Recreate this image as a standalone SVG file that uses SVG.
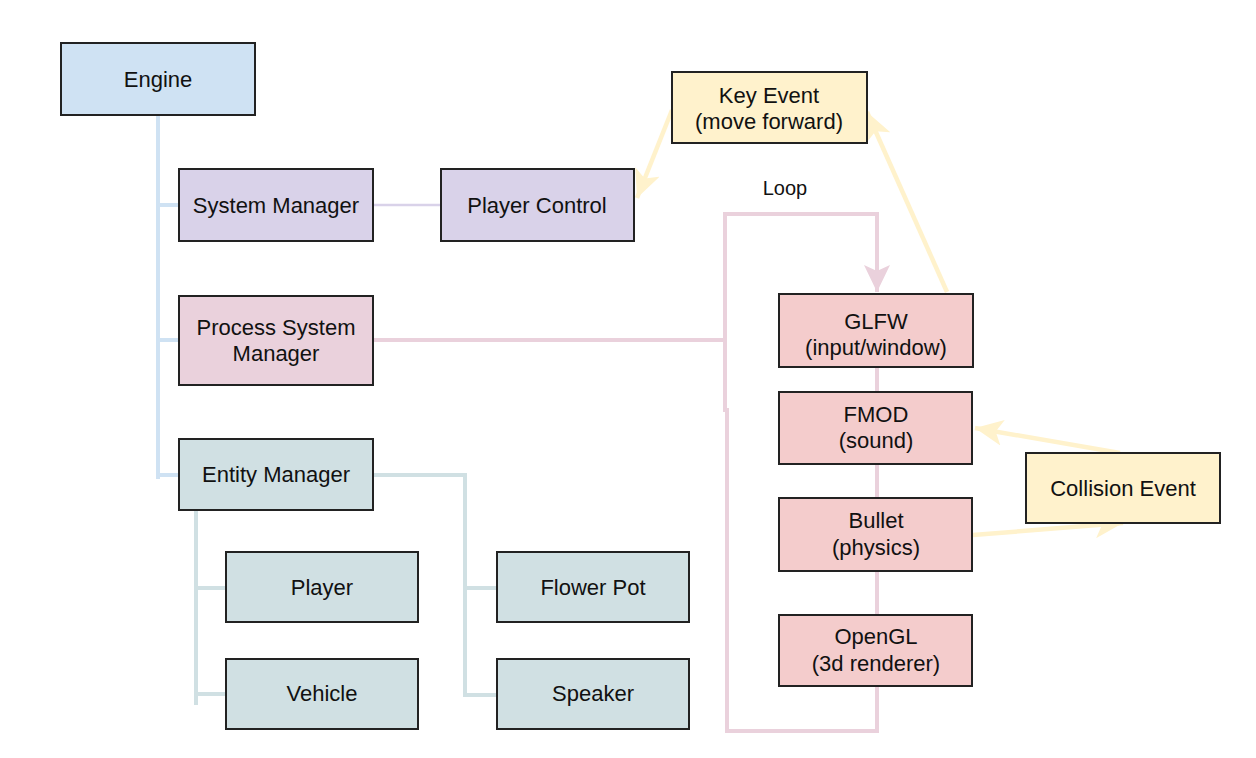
<svg xmlns="http://www.w3.org/2000/svg" width="1256" height="758" viewBox="0 0 1256 758">
<defs>
<style>
.n rect{stroke:#222;stroke-width:2}
.n text{font-family:"Liberation Sans",Arial,sans-serif;font-size:22px;fill:#111;text-anchor:middle}
.c{fill:none}
.blue{stroke:#cfe2f3;stroke-width:4}
.pur{stroke:#d9d2e9;stroke-width:2.5}
.pink{stroke:#ead1dc;stroke-width:4}
.teal{stroke:#d0e0e3;stroke-width:4}
.yel{stroke:#fff2cc;stroke-width:4.5}
.lbl{font-family:"Liberation Sans",Arial,sans-serif;font-size:20px;fill:#111;text-anchor:middle}
</style>
<marker id="ay" markerUnits="userSpaceOnUse" markerWidth="30" markerHeight="26" refX="28" refY="13" orient="auto">
<path d="M0,0 L28,13 L0,26 L7,13 Z" fill="#fff2cc"/>
</marker>
<marker id="ap" markerUnits="userSpaceOnUse" markerWidth="30" markerHeight="26" refX="27" refY="13" orient="auto">
<path d="M0,0 L27,13 L0,26 L6,13 Z" fill="#ead1dc"/>
</marker>
</defs>
<rect width="1256" height="758" fill="#fff"/>
<g id="connectors">
<path class="c blue" d="M158,115 V479 M158,205 H179 M158,340 H179 M158,475 H179"/>
<path class="c pur" d="M373,205 H441"/>
<path class="c pink" d="M373,340 H725"/>
<path class="c pink" d="M725,412 V214 H877 V292" marker-end="url(#ap)"/>
<path class="c pink" d="M877,367 V392 M877,464 V498 M877,571 V615 M877,686 V731 H727 V408"/>
<path class="c teal" d="M196,510 V705 M196,588 H226 M196,694 H226"/>
<path class="c teal" d="M373,475 H465 V695 H497 M465,588 H497"/>
<path class="c yel" d="M672,110 L637,198" marker-end="url(#ay)"/>
<path class="c yel" d="M947,292 L867,112" marker-end="url(#ay)"/>
<path class="c yel" d="M1120,453 L975,428" marker-end="url(#ay)"/>
<path class="c yel" d="M973,535 L1123,523" marker-end="url(#ay)"/>
<text class="lbl" x="785" y="195">Loop</text>
</g>
<g id="engine" class="n"><rect x="61" y="43" width="194" height="72" fill="#cfe2f3"/><text x="158" y="87">Engine</text></g>
<g id="system-manager" class="n"><rect x="179" y="169" width="194" height="72" fill="#d9d2e9"/><text x="276" y="213">System Manager</text></g>
<g id="player-control" class="n"><rect x="441" y="169" width="193" height="72" fill="#d9d2e9"/><text x="537" y="213">Player Control</text></g>
<g id="process-system-manager" class="n"><rect x="179" y="296" width="194" height="89" fill="#ead1dc"/><text x="276" y="335">Process System</text><text x="276" y="361">Manager</text></g>
<g id="entity-manager" class="n"><rect x="179" y="439" width="194" height="71" fill="#d0e0e3"/><text x="276" y="482">Entity Manager</text></g>
<g id="player" class="n"><rect x="226" y="552" width="192" height="70" fill="#d0e0e3"/><text x="322" y="595">Player</text></g>
<g id="vehicle" class="n"><rect x="226" y="659" width="192" height="70" fill="#d0e0e3"/><text x="322" y="701">Vehicle</text></g>
<g id="flower-pot" class="n"><rect x="497" y="552" width="192" height="70" fill="#d0e0e3"/><text x="593" y="595">Flower Pot</text></g>
<g id="speaker" class="n"><rect x="497" y="659" width="192" height="70" fill="#d0e0e3"/><text x="593" y="701">Speaker</text></g>
<g id="key-event" class="n"><rect x="672" y="72" width="195" height="71" fill="#fff2cc"/><text x="769" y="103">Key Event</text><text x="769" y="129">(move forward)</text></g>
<g id="glfw" class="n"><rect x="779" y="294" width="194" height="73" fill="#f4cccc"/><text x="876" y="329">GLFW</text><text x="876" y="355">(input/window)</text></g>
<g id="fmod" class="n"><rect x="779" y="392" width="193" height="72" fill="#f4cccc"/><text x="876" y="422">FMOD</text><text x="876" y="448">(sound)</text></g>
<g id="bullet" class="n"><rect x="779" y="498" width="193" height="73" fill="#f4cccc"/><text x="876" y="528">Bullet</text><text x="876" y="555">(physics)</text></g>
<g id="opengl" class="n"><rect x="779" y="615" width="193" height="71" fill="#f4cccc"/><text x="876" y="644">OpenGL</text><text x="876" y="671">(3d renderer)</text></g>
<g id="collision-event" class="n"><rect x="1026" y="453" width="194" height="70" fill="#fff2cc"/><text x="1123" y="496">Collision Event</text></g>
</svg>
